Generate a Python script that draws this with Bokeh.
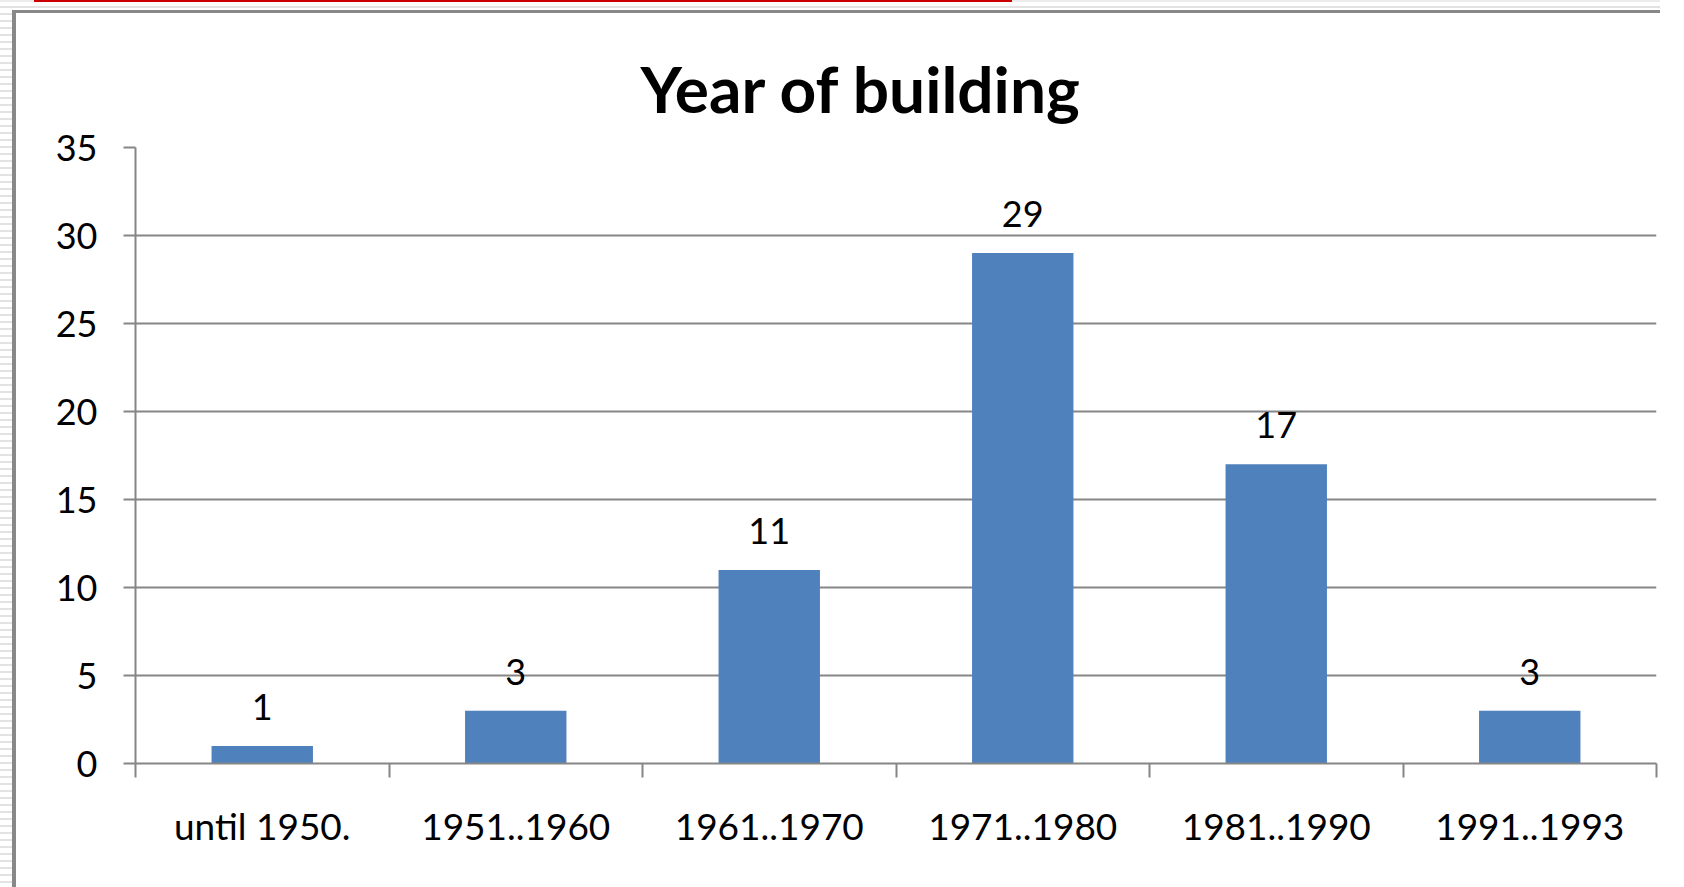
from bokeh.plotting import figure
from bokeh.models import ColumnDataSource, FixedTicker, LabelSet, Range1d
from bokeh.core.properties import value
from bokeh.embed import file_html
from bokeh.resources import INLINE

# ---- data ----
categories = ["until 1950.", "1951..1960", "1961..1970", "1971..1980", "1981..1990", "1991..1993"]
counts = [1, 3, 11, 29, 17, 3]
y_ticks = [0, 5, 10, 15, 20, 25, 30, 35]
title_text = "Year of building"

# ---- derived positions (from the categories) ----
centers = [i + 0.5 for i in range(len(categories))]
bounds = list(range(len(categories) + 1))
src = ColumnDataSource(dict(x=centers, top=counts, label=[str(c) for c in counts]))

GRAY = "#868686"
BAR = "#4F81BD"
FONT = "Lato"

W, H = 1660, 887
p = figure(width=W, height=H, output_backend="svg", toolbar_location=None,
           x_range=Range1d(0, len(categories)), y_range=Range1d(0, max(y_ticks)),
           min_border_left=119, min_border_top=134, min_border_right=20, min_border_bottom=137)
p.outline_line_color = None
p.background_fill_color = "white"
p.border_fill_color = "white"

p.vbar(x="x", top="top", width=0.4, source=src, fill_color=BAR, line_color=None)

# title
p.title.text = title_text
p.title.align = "left"
p.title.text_font = FONT
p.title.text_font_style = "bold"
p.title.text_font_size = "64px"
p.title.text_color = "#000000"
p.title.standoff = 41
p.title.offset = 505

# y axis
p.yaxis.ticker = FixedTicker(ticks=y_ticks)
p.yaxis.axis_line_color = GRAY
p.yaxis.axis_line_width = 2
p.yaxis.major_tick_line_color = GRAY
p.yaxis.major_tick_line_width = 2
p.yaxis.major_tick_out = 12
p.yaxis.major_tick_in = 0
p.yaxis.minor_tick_line_color = None
p.yaxis.major_label_text_font = FONT
p.yaxis.major_label_text_font_size = "36px"
p.yaxis.major_label_text_color = "#000000"
p.yaxis.major_label_standoff = 26

# x axis: labels at centers, tick marks at boundaries
p.xaxis.ticker = FixedTicker(ticks=centers, minor_ticks=bounds)
p.xaxis.major_label_overrides = {c: lab for c, lab in zip(centers, categories)}
p.xaxis.axis_line_color = GRAY
p.xaxis.axis_line_width = 2
p.xaxis.major_tick_line_color = None
p.xaxis.major_tick_out = 0
p.xaxis.major_tick_in = 0
p.xaxis.minor_tick_line_color = GRAY
p.xaxis.minor_tick_line_width = 2
p.xaxis.minor_tick_out = 14
p.xaxis.minor_tick_in = 0
p.xaxis.major_label_text_font = FONT
p.xaxis.major_label_text_font_size = "37px"
p.xaxis.major_label_text_color = "#000000"
p.xaxis.major_label_standoff = 25

# grid
p.xgrid.grid_line_color = None
p.ygrid.ticker = FixedTicker(ticks=y_ticks)
p.ygrid.grid_line_color = GRAY
p.ygrid.grid_line_width = 2

# value labels
labels = LabelSet(x="x", y="top", text="label", source=src, y_offset=39,
                  text_align="center", text_baseline="middle",
                  text_font=value(FONT), text_font_size=value("36px"),
                  text_color="#000000")
p.add_layout(labels)

# window frame decoration around the chart (screenshot border)
p.styles = {
    "overflow": "hidden",
    "padding-top": "13px",
    "padding-left": "16px",
    "background-color": "white",
    "background-image": ", ".join([
        "linear-gradient(#cc0000, #cc0000)",
        "linear-gradient(#ececec, #ececec)",
        "linear-gradient(#e2e2e2, #e2e2e2)",
        "linear-gradient(#888888, #888888)",
        "linear-gradient(#888888, #888888)",
        "repeating-linear-gradient(to bottom, #e2e2e2 0px, #e2e2e2 2px, #ffffff 2px, #ffffff 7px)",
    ]),
    "background-position": "34px 0px, 0px 0px, 0px 6px, 12px 10px, 12px 10px, 0px 13px",
    "background-size": "978px 2px, 100% 2px, 100% 2px, 100% 3px, 4px 100%, 12px 100%",
    "background-repeat": "no-repeat",
}

open("out.html", "w").write(file_html(p, INLINE))
